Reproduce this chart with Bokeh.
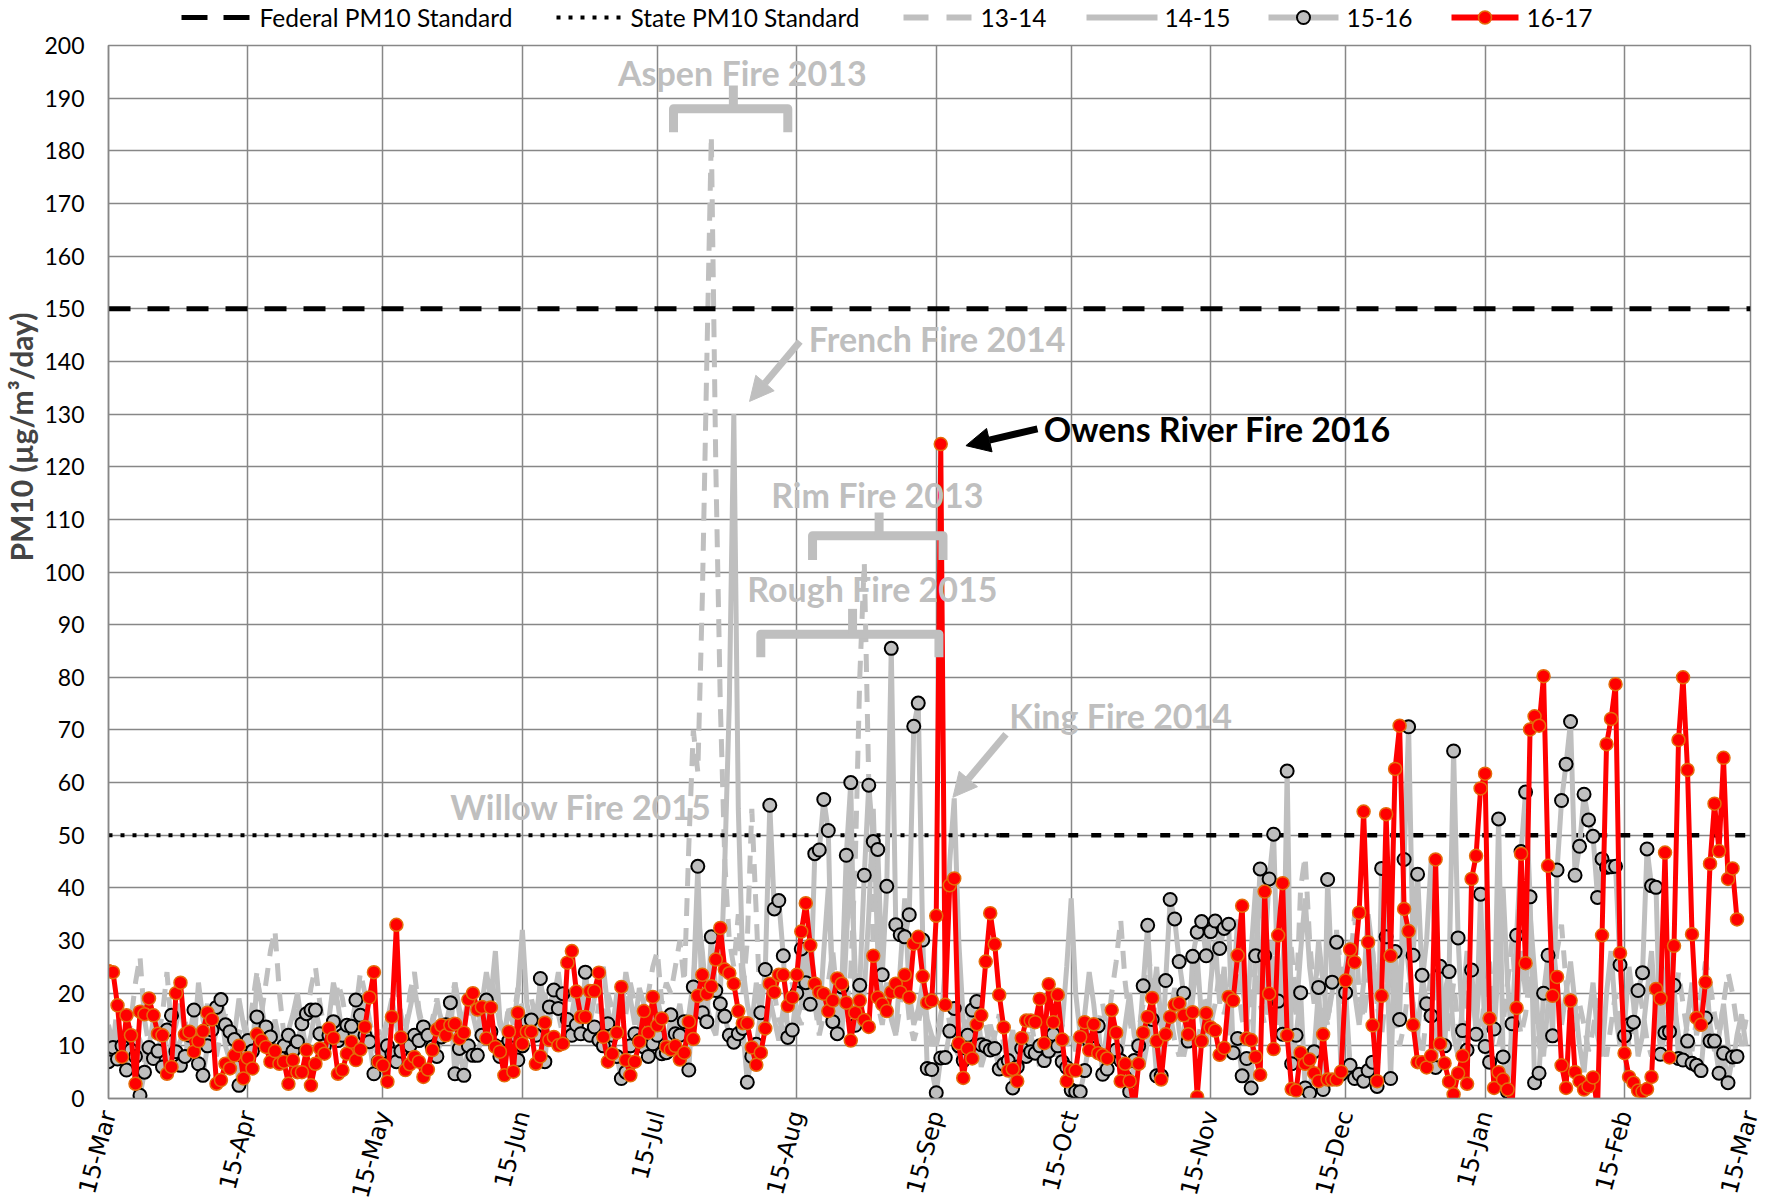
from bokeh.plotting import figure
from bokeh.layouts import column
from bokeh.models import FixedTicker, Arrow, NormalHead, Label, Range1d
from bokeh.embed import file_html
from bokeh.resources import INLINE

# ---------------- data ----------------
month_ticks = [0, 31, 61, 92, 122, 153, 184, 214, 245, 275, 306, 337, 365]
month_labels = ["15-Mar", "15-Apr", "15-May", "15-Jun", "15-Jul", "15-Aug", "15-Sep",
                "15-Oct", "15-Nov", "15-Dec", "15-Jan", "15-Feb", "15-Mar"]
y_ticks = list(range(0, 201, 10))

federal_std = 150
state_std = 50
state_dash_from = 198   # day where the state line turns dashed
x_end = 365

pm_13_14 = [
    14, 10, 18, 12, 9, 15, 22, 27, 15, 10, 8, 12, 16, 24, 13, 9, 11, 15, 10, 7, 12, 14, 18, 11, 8, 13, 16, 10, 9, 12, 15,
    12, 18, 24, 16, 22, 28, 32, 20, 12, 9, 14, 17, 11, 15, 21, 25, 18, 13, 10, 16, 22, 19, 14, 12, 17, 24, 20, 15, 11, 13,
    10, 14, 18, 22, 16, 12, 20, 24, 17, 13, 10, 15, 19, 14, 12, 18, 22, 16, 11, 14, 20, 17, 13, 16, 23, 19, 14, 12, 18, 15, 21,
    17, 13, 19, 15, 22, 18, 14, 20, 16, 12, 17, 21, 15, 19, 24, 16, 12, 18, 14, 20, 17, 13, 19, 16, 22, 18, 14, 12, 20, 25, 28,
    18, 22, 20, 25, 30, 22, 48, 70, 62, 95, 140, 183, 120, 75, 45, 30, 25, 35, 20, 30, 55, 35, 14, 12, 17, 20, 15, 13, 18, 22, 16,
    14, 20, 26, 18, 12, 16, 22, 28, 19, 14, 17, 24, 45, 80, 102, 60, 28, 18, 14, 20, 16, 12, 18, 24, 15, 11, 14, 19, 13, 10,
    12, 16, 20, 14, 10, 8, 13, 17, 11, 7, 10, 14, 9, 12, 16, 10, 7, 9, 13, 8, 11, 15, 10, 6, 9, 12, 8, 11, 14, 10, 13,
    9, 12, 16, 11, 8, 14, 18, 12, 20, 26, 34, 22, 15, 10, 13, 18, 30, 20, 14, 9, 12, 16, 11, 8, 13, 17, 12, 10, 15, 20, 14,
    18, 24, 16, 20, 28, 22, 15, 12, 19, 26, 18, 14, 22, 30, 20, 25, 35, 28, 18, 40, 46, 30, 20, 26, 18, 14, 22, 32, 24, 18,
    25, 35, 20, 15, 22, 28, 18, 12, 20, 26, 16, 10, 14, 22, 18, 12, 8, 16, 24, 20, 12, 9, 15, 22, 14, 10, 18, 25, 16, 12,
    20, 26, 15, 10, 14, 22, 30, 18, 12, 16, 24, 17, 10, 8, 14, 20, 28, 33, 22, 15, 12, 18, 14, 9, 13, 19, 12, 8, 14, 20,
    12, 16, 10, 14, 22, 17, 11, 8, 15, 20, 13, 10, 16, 24, 18, 12, 9, 15, 20, 26, 22, 16, 12, 18, 24, 20, 14, 10, 15,
]

pm_14_15 = [
    12, 8, 14, 10, 6, 9, 13, 11, 7, 10, 15, 12, 9, 6, 11, 14, 18, 12, 8, 10, 22, 15, 11, 9, 13, 17, 10, 7, 12, 19, 14,
    10, 8, 23, 18, 12, 9, 15, 11, 7, 13, 16, 20, 14, 9, 12, 17, 13, 10, 15, 22, 18, 12, 9, 14, 11, 16, 20, 13, 10, 8,
    12, 15, 19, 14, 10, 13, 17, 21, 16, 12, 9, 14, 18, 15, 11, 13, 22, 17, 14, 20, 16, 12, 18, 24, 19, 28, 15, 12, 17, 14, 20,
    32, 18, 14, 12, 16, 20, 15, 19, 24, 17, 13, 16, 21, 18, 22, 14, 19, 23, 25, 17, 13, 20, 16, 24, 19, 14, 21, 18, 12, 15, 19,
    15, 11, 8, 14, 18, 12, 16, 22, 35, 28, 18, 14, 12, 20, 45, 75, 130, 55, 25, 18, 14, 22, 16, 12, 19, 15, 11, 17, 14, 12, 15,
    18, 25, 32, 20, 14, 28, 40, 22, 16, 12, 30, 45, 24, 15, 20, 35, 55, 28, 18, 22, 15, 12, 25, 38, 20, 14, 17, 22, 15, 12,
    10, 14, 25, 45, 57, 30, 15, 10, 8, 12, 6, 9, 14, 11, 7, 5, 9, 13, 8, 6, 10, 12, 9, 7, 11, 15, 10, 8, 14, 25, 38,
    20, 12, 16, 24, 18, 10, 7, 13, 17, 11, 8, 14, 20, 12, 9, 6, 11, 18, 25, 14, 10, 16, 21, 13, 8, 12, 19, 27, 15, 10, 22,
    30, 18, 25, 12, 20, 34, 22, 15, 28, 40, 24, 18, 30, 22, 14, 26, 35, 20, 16, 28, 38, 25, 18, 30, 22, 15, 20, 32, 18, 25,
    30, 20, 14, 22, 35, 28, 18, 24, 40, 26, 15, 20, 32, 25, 18, 12, 22, 30, 45, 28, 15, 20, 24, 12, 8, 18, 28, 20, 14, 25,
    32, 18, 12, 26, 40, 22, 10, 15, 28, 20, 35, 24, 12, 8, 18, 30, 22, 14, 20, 26, 18, 10, 5, 15, 22, 12, 8, 20, 28, 16,
    10, 14, 25, 18, 8, 12, 20, 28, 15, 10, 22, 30, 18, 12, 8, 15, 22, 12, 16, 25, 14, 9, 12, 18, 10, 6, 12, 16, 10,
]

pm_15_16 = [
    7.0, 9.7, 7.5, 10, 5.4, 9.2, 8, 0.6, 5, 9.7, 7.6, 9, 6, 13, 15.8, 8.9, 6.3, 8, 12, 16.8,
    6.6, 4.4, 10, 13, 17.3, 18.8, 14, 12.7, 11.2, 2.5, 8, 11, 9, 15.5, 12, 13.6, 11.7, 9, 7.9, 10,
    12, 9, 10.8, 14.2, 16.1, 16.8, 16.8, 12.3, 10, 12, 14.6, 11, 12, 13.9, 13.7, 18.7, 15.8, 12, 10.8, 4.7,
    7, 8.9, 10, 8.5, 7, 9, 11, 10, 12, 11, 13.6, 12, 9.8, 8, 11.7, 14, 18.2, 4.7, 9.5, 4.4,
    10, 8.2, 8.2, 12, 18.7, 12.7, 10, 8, 9.8, 11, 12, 7.3, 10, 14.6, 14.9, 12, 22.8, 7, 17.4, 20.6,
    17.1, 19.9, 15, 12, 14, 12.3, 24, 12, 13.6, 11.1, 10, 14.2, 12, 8, 3.8, 5, 10, 12.3, 11, 9.8,
    8, 10.4, 12, 8.5, 8.7, 15.9, 12.3, 12, 14.6, 5.4, 21.2, 44.1, 16.3, 14.6, 30.7, 20.5, 18, 15.6, 12, 10.7,
    12.3, 13.3, 3.1, 8, 10.3, 16.3, 24.5, 55.7, 36, 37.6, 27.1, 11.6, 13, 20, 28.4, 22, 17.9, 46.5, 47.2, 56.8,
    50.9, 14.6, 12.3, 21.2, 46.2, 60, 13.9, 21.5, 42.4, 59.5, 48.8, 47.3, 23.5, 40.3, 85.5, 33, 31.1, 30.7, 34.9, 70.7,
    75.1, 30.1, 5.7, 5.5, 1.1, 7.7, 7.8, 12.8, 17.1, 10, 7.2, 12, 16.8, 18.4, 10.2, 9.9, 9.2, 9.5, 5.6, 6.5,
    7.2, 2, 6, 9.5, 8, 8.9, 8.6, 10, 7.2, 9, 12.2, 10, 7, 5.9, 1.6, 1.3, 1.3, 5.3, 10.9, 9.5,
    13.8, 4.6, 5.6, 8, 9.2, 7.2, 4, 1.3, 7.2, 10, 21.4, 32.9, 15, 4.3, 4.3, 22.4, 37.8, 34.1, 26, 20,
    10.9, 27, 31.6, 33.6, 27.1, 31.7, 33.7, 28.5, 32.3, 33.1, 8.7, 11.4, 4.3, 7.6, 2, 27.1, 43.6, 27.1, 41.7, 50.2,
    18.5, 12.2, 62.2, 6.6, 12, 20.1, 2, 1, 8.9, 21.1, 1.7, 41.6, 22.1, 29.7, 4.6, 20.1, 6.3, 3.8, 4.6, 3.3,
    5.3, 6.9, 2.3, 43.7, 30.7, 3.8, 27.9, 15, 45.4, 70.6, 27.2, 42.6, 23.4, 18, 15.7, 5.9, 25.1, 10, 24.1, 66,
    30.5, 12.9, 9.2, 24.4, 12.2, 38.8, 9.9, 6.9, 13.2, 53.1, 7.9, 1.3, 14.2, 31, 46.9, 58.2, 38.3, 3, 4.8, 20,
    27.2, 11.9, 43.4, 56.6, 63.5, 71.6, 42.4, 47.9, 57.8, 52.9, 49.8, 38.2, 45.5, 43.9, 44, 44.1, 25.4, 11.9, 14, 14.5,
    20.5, 23.9, 47.4, 40.4, 40.1, 8.4, 12.5, 12.7, 21.5, 7.6, 7.3, 10.9, 6.7, 6.3, 5.3, 15.3, 10.9, 10.9, 4.8, 8.6,
    3, 7.9, 8,
]

pm_16_17 = [
    24.2, 24, 17.7, 7.9, 15.8, 12, 2.8, 16.5, 16, 19,
    15.8, 12.3, 12, 4.7, 6, 20, 22, 12.2, 12.7, 8.9,
    10.9, 12.8, 16.3, 15, 2.8, 3.5, 6.6, 5.7, 8.2, 10,
    3.8, 7.7, 5.7, 12.2, 11, 9.8, 7, 9, 6.6, 7,
    2.8, 7.3, 5, 5, 9.2, 2.5, 6.6, 9.5, 8.5, 13.3,
    11.5, 4.7, 5.4, 8.5, 10.8, 7.3, 9.3, 13.6, 19.2, 24,
    7, 6.3, 3.2, 15.5, 33, 11.6, 5.4, 6.5, 7.9, 7,
    4.1, 5.5, 9.2, 13.1, 13.9, 12, 13.9, 14.2, 11.4, 12.5,
    18.8, 20, 16.9, 17.4, 11.4, 17.3, 9.8, 8.9, 4.4, 12.7,
    5.1, 16.3, 10.4, 12.7, 12.7, 6.6, 8, 14.4, 11.1, 11.7,
    10.1, 10.4, 25.8, 28, 20.3, 15.5, 15.5, 20.4, 20.4, 23.9,
    11.7, 7, 8.5, 12.5, 21.2, 7.3, 4.4, 7, 10.8, 16.6,
    12.5, 19.3, 13.9, 15.2, 9.8, 9.3, 10, 7.4, 8.7, 14.6,
    11.3, 19.5, 23.5, 19.9, 21.3, 26.4, 32.4, 24.5, 23.8, 21.8,
    16.6, 14.3, 14.3, 9.7, 6.4, 8.7, 13.3, 21.8, 20.2, 23.5,
    23.5, 17.6, 19.2, 23.5, 31.7, 37.1, 29.1, 21.8, 20.2, 19.9,
    16.6, 18.6, 22.8, 21.8, 18.2, 11, 16.3, 18.6, 14.9, 13.6,
    27.1, 19.2, 17.9, 16.6, 20.2, 21.8, 20.2, 23.5, 19.2, 29.4,
    30.7, 23.2, 18.2, 18.6, 34.7, 124.3, 17.8, 40.5, 41.8, 10.5,
    3.9, 9.5, 7.6, 14.1, 15.8, 26, 35.2, 29.3, 19.7, 13.5,
    5.3, 5.6, 3.3, 11.5, 14.8, 14.8, 14.5, 18.9, 10.5, 21.7,
    14.5, 19.7, 11.2, 3.3, 5.3, 5.3, 11.7, 14.5, 9.2, 14.1,
    8.6, 8.2, 7.6, 16.8, 12.5, 3.3, 6.6, 3.3, -2, 6.6,
    12.5, 15.5, 19.1, 10.9, 3.6, 12.2, 15.5, 17.8, 18.1, 15.8,
    12.2, 16.4, 0.3, 10.9, 16.2, 13.5, 12.9, 8.3, 9.6, 19.3,
    18.6, 27.2, 36.6, 11.4, 11.1, 7.9, 4.5, 39.3, 19.9, 9.4,
    31, 40.9, 12, 1.8, 1.5, 8.7, 6.6, 7.4, 4.8, 3.3,
    12.2, 3.6, 3.6, 3.6, 5.1, 22.4, 28.3, 25.9, 35.3, 54.5,
    29.7, 13.9, 3.3, 19.5, 54, 27.1, 62.6, 70.8, 36, 31.8,
    14, 6.9, 6.9, 5.9, 8.1, 45.4, 10.4, 6.7, 3.2, 0.8,
    4.8, 8.1, 2.8, 41.7, 46.1, 58.9, 61.7, 15.2, 2, 5,
    3.6, 1.7, -2, 17.2, 46.5, 25.7, 70.1, 72.6, 70.8, 80.2,
    44.2, 19.5, 23.1, 6.3, 2, 18.6, 5, 3.3, 1.7, 2.3,
    4, -2, 31, 67.3, 72.1, 78.7, 27.6, 8.6, 4.1, 3,
    1.5, 1.3, 1.8, 4.1, 20.8, 19, 46.7, 7.8, 29, 68.1,
    80, 62.4, 31.2, 15.3, 14, 22.1, 44.6, 56, 47, 64.7,
    41.7, 43.7, 34,
]

series_names = ["Federal PM10 Standard", "State PM10 Standard", "13-14", "14-15", "15-16", "16-17"]

# annotation anchors (day, value)
aspen_text = (140.9, 194.9)
french_text = (184.2, 144.4)
owens_text = (246.5, 127.2)
rim_text = (170.9, 114.8)
rough_text = (169.8, 96.8)
king_text = (225.0, 72.7)
willow_text = (105.0, 55.4)

french_arrow = (153.7, 143.8, 142.5, 132.4)
owens_arrow = (206.5, 127.2, 190.6, 124.0)
king_arrow = (199.5, 69.2, 187.7, 57.2)

# braces: left, right, center, bottom, top, tip
aspen_brace = (125.6, 151.0, 138.9, 183.5, 188.0, 192.4)
rim_brace = (156.5, 185.5, 171.3, 102.3, 106.9, 111.3)
rough_brace = (145.0, 184.6, 165.4, 83.8, 88.2, 93.0)

# ---------------- styling ----------------
GRAY = "#BFBFBF"
GRID = "#878787"
FONT = "Lato"
RED = "#FF0000"
ORANGE = "#E46C0A"

BORDER_L, BORDER_R, FRAME_W = 107, 14, 1642
LEGEND_H = 32
TOP_GAP = 13

p = figure(frame_width=FRAME_W, frame_height=1053, x_range=(0, x_end), y_range=(0, 200),
           output_backend="svg", toolbar_location=None,
           min_border_left=BORDER_L, min_border_right=BORDER_R, min_border_top=TOP_GAP,
           min_border_bottom=96)
p.background_fill_color = "white"
p.border_fill_color = "white"
p.outline_line_color = GRID
p.outline_line_width = 1.5

p.xaxis.ticker = FixedTicker(ticks=month_ticks)
p.xaxis.major_label_overrides = {t: l for t, l in zip(month_ticks, month_labels)}
p.yaxis.ticker = FixedTicker(ticks=y_ticks)

for ax in (p.xaxis[0], p.yaxis[0]):
    ax.axis_line_color = GRID
    ax.axis_line_width = 1.5
    ax.major_tick_line_color = None
    ax.minor_tick_line_color = None
    ax.major_tick_in = 0
    ax.major_tick_out = 0
    ax.major_label_text_color = "black"

p.yaxis.major_label_text_font = FONT
p.yaxis.major_label_text_font_size = "23px"
p.yaxis.major_label_text_line_height = 1.0
p.yaxis.major_label_standoff = 24
# leading em-spaces lift the visible title above the axis centre, as in the original
p.yaxis.axis_label = "\u2003" * 12 + "PM10 (µg/m³/day)"
p.yaxis.axis_label_text_font = FONT
p.yaxis.axis_label_text_font_style = "bold"
p.yaxis.axis_label_text_font_size = "30px"
p.yaxis.axis_label_standoff = 2

p.xaxis.major_label_text_font = "DejaVu Sans"
p.xaxis.major_label_text_font_size = "24px"
p.xaxis.major_label_orientation = 1.31
p.xaxis.major_label_standoff = 13

p.xgrid.ticker = FixedTicker(ticks=month_ticks)
p.ygrid.ticker = FixedTicker(ticks=y_ticks)
for g in (p.xgrid[0], p.ygrid[0]):
    g.grid_line_color = GRID
    g.grid_line_width = 1.5

# ---------------- series ----------------
p.line(list(range(len(pm_13_14))), pm_13_14, line_color=GRAY, line_width=5, line_dash="18 12")
p.line(list(range(len(pm_14_15))), pm_14_15, line_color=GRAY, line_width=5)

p.line([0, x_end], [federal_std, federal_std], line_color="black", line_width=5, line_dash="22 17")
p.line([0, state_dash_from], [state_std, state_std], line_color="black", line_width=4, line_dash="4 8")
p.line([state_dash_from, x_end], [state_std, state_std], line_color="black", line_width=4.5,
       line_dash="10 13")

x1516 = list(range(len(pm_15_16)))
p.line(x1516, pm_15_16, line_color=GRAY, line_width=5)
p.scatter(x1516, pm_15_16, size=13, fill_color=GRAY, line_color="black", line_width=2)

x1617 = list(range(len(pm_16_17)))
p.line(x1617, pm_16_17, line_color=RED, line_width=5)
p.scatter(x1617, pm_16_17, size=13, fill_color=RED, line_color=ORANGE, line_width=1.5)

# ---------------- annotations ----------------
def add_label(pos, text, color, size="34px"):
    p.add_layout(Label(x=pos[0], y=pos[1], text=text, text_align="center",
                       text_baseline="middle", text_font=FONT, text_font_style="bold",
                       text_font_size=size, text_color=color))

def add_arrow(a, color):
    p.add_layout(Arrow(end=NormalHead(size=24, fill_color=color, line_color=color),
                       x_start=a[0], y_start=a[1], x_end=a[2], y_end=a[3],
                       line_color=color, line_width=7))

def add_brace(b):
    l, r, c, bot, top, tip = b
    p.multi_line([[l, l, r, r], [c, c]], [[bot, top, top, bot], [top, tip]],
                 line_color=GRAY, line_width=9, line_join="round")

for b in (aspen_brace, rim_brace, rough_brace):
    add_brace(b)
add_arrow(french_arrow, GRAY)
add_arrow(king_arrow, GRAY)
add_arrow(owens_arrow, "black")

add_label(aspen_text, "Aspen Fire 2013", GRAY)
add_label(french_text, "French Fire 2014", GRAY)
add_label(rim_text, "Rim Fire 2013", GRAY)
add_label(rough_text, "Rough Fire 2015", GRAY)
add_label(king_text, "King Fire 2014", GRAY)
add_label(willow_text, "Willow Fire 2015", GRAY)
add_label(owens_text, "Owens River Fire 2016", "black")

# ---------------- legend strip (page-pixel x, same frame as the chart) ----------------
lg = figure(frame_width=FRAME_W, frame_height=LEGEND_H,
            x_range=Range1d(BORDER_L, BORDER_L + FRAME_W), y_range=Range1d(0, LEGEND_H),
            output_backend="svg", toolbar_location=None, x_axis_type=None, y_axis_type=None,
            min_border_left=BORDER_L, min_border_right=BORDER_R, min_border_top=0,
            min_border_bottom=0)
lg.outline_line_color = None
lg.xgrid.visible = False
lg.ygrid.visible = False
lg.background_fill_color = "white"
lg.border_fill_color = "white"

LY = 15  # legend row centre (pixels from the strip bottom)
# (sample start, sample end, label start) for each entry
slots = [(180, 248, 258), (555, 620, 629), (902, 970, 979), (1085, 1156, 1163),
         (1267, 1337, 1345), (1450, 1517, 1525)]
lg.line([slots[0][0], slots[0][1]], [LY, LY], line_color="black", line_width=5, line_dash="26 16")
lg.line([slots[1][0], slots[1][1]], [LY, LY], line_color="black", line_width=4, line_dash="4 8")
lg.line([slots[2][0], slots[2][1]], [LY, LY], line_color=GRAY, line_width=6, line_dash="25 18")
lg.line([slots[3][0], slots[3][1]], [LY, LY], line_color=GRAY, line_width=6)
lg.line([slots[4][0], slots[4][1]], [LY, LY], line_color=GRAY, line_width=6)
lg.scatter([(slots[4][0] + slots[4][1]) / 2], [LY], size=13, fill_color=GRAY, line_color="black",
           line_width=2)
lg.line([slots[5][0], slots[5][1]], [LY, LY], line_color=RED, line_width=6)
lg.scatter([(slots[5][0] + slots[5][1]) / 2], [LY], size=13, fill_color=RED, line_color=ORANGE,
           line_width=1.5)
for (s0, s1, tx), name in zip(slots, series_names):
    lg.add_layout(Label(x=tx, y=LY, text=name, text_align="left", text_baseline="middle",
                        text_font=FONT, text_font_size="24.5px", text_line_height=1.0,
                        text_color="black"))

layout = column(lg, p, spacing=0)
open("out.html", "w").write(file_html(layout, INLINE))
